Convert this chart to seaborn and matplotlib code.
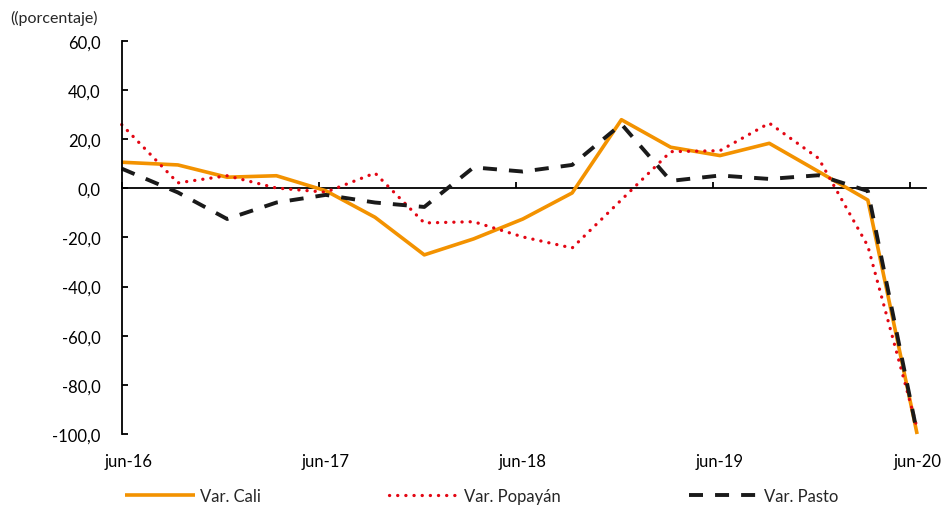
import numpy as np
import pandas as pd
import matplotlib
matplotlib.use("Agg")
import matplotlib.pyplot as plt
from matplotlib.ticker import FuncFormatter
import seaborn as sns

# Variacion anual trimestral, jun-16 a jun-20
trimestres = ["jun-16", "sep-16", "dic-16", "mar-17", "jun-17", "sep-17", "dic-17", "mar-18",
              "jun-18", "sep-18", "dic-18", "mar-19", "jun-19", "sep-19", "dic-19", "mar-20", "jun-20"]
cali = [10.6, 9.5, 4.5, 5.1, -1.0, -11.8, -27.1, -20.6, -12.5, -1.9, 27.9, 16.7, 13.3, 18.3, 6.8, -4.8, -100.0]
popayan = [25.9, 2.2, 5.1, 0.1, -1.6, 6.2, -14.1, -13.6, -19.8, -24.3, -4.7, 14.9, 15.3, 26.5, 12.2, -23.5, -97.5]
pasto = [8.0, -1.7, -12.5, -5.8, -2.7, -5.8, -7.6, 8.5, 6.8, 9.5, 26.1, 3.0, 5.2, 3.8, 5.3, -1.1, -99.5]
etiquetas_x = ["jun-16", "jun-17", "jun-18", "jun-19", "jun-20"]
series = ["Var. Cali", "Var. Popayán", "Var. Pasto"]

# los puntos quedan un poco despues de la marca de cada junio; el primero arranca en el eje
desfase = 0.14
pos = np.arange(len(trimestres)) + desfase
pos[0] = 0.0

df = pd.DataFrame({"x": np.tile(pos, 3),
                   "valor": cali + popayan + pasto,
                   "serie": np.repeat(series, len(trimestres))})

sns.set_theme(style="ticks")
plt.rcParams["font.family"] = ["Lato", "DejaVu Sans"]

colores = {"Var. Cali": "#F39200", "Var. Popayán": "#E30613", "Var. Pasto": "#1A1A1A"}
trazos = {"Var. Cali": "", "Var. Popayán": (0.05, 2.45), "Var. Pasto": (3.6, 3.1)}

fig = plt.figure(figsize=(9.47, 5.10), dpi=100)
ax = fig.add_axes([0.1285, 0.147, 0.8493, 0.771])

sns.lineplot(data=df, x="x", y="valor", hue="serie", style="serie", hue_order=series,
             style_order=series, palette=colores, dashes=trazos, linewidth=2.6,
             legend=False, ax=ax)

for ln in ax.lines:
    ln.set_clip_on(False)
    ln.set_solid_capstyle("butt")
ax.lines[1].set_linewidth(2.35)
ax.lines[1].set_dash_capstyle("round")
ax.lines[2].set_linewidth(2.8)

idx_x = [trimestres.index(t) for t in etiquetas_x]

ax.set_xlim(0, 16.32)
ax.set_ylim(-100, 60)
ax.set_yticks(np.arange(-100, 61, 20))
ax.yaxis.set_major_formatter(FuncFormatter(lambda v, p: f"{v:.1f}".replace(".", ",")))
# las etiquetas van centradas en el dato de junio, las marcas en el inicio del mes
ax.set_xticks([i + desfase for i in idx_x])
ax.set_xticklabels(etiquetas_x)
ax.set_xlabel("")
ax.set_ylabel("")

for s in ["top", "right", "bottom"]:
    ax.spines[s].set_visible(False)
ax.spines["left"].set_color("black")
ax.spines["left"].set_linewidth(1.3)
ax.tick_params(axis="y", direction="in", length=4, width=1.3, color="black",
               labelsize=12, pad=15, labelcolor="black")
ax.tick_params(axis="x", length=0, labelsize=12, pad=14, labelcolor="black")

# eje horizontal en cero con sus marcas hacia arriba
eje0 = ax.secondary_xaxis(0, transform=ax.transData)
eje0.set_xticks(idx_x)
eje0.tick_params(direction="in", length=4, width=1.3, color="black", labelbottom=False)
eje0.spines["bottom"].set_color("black")
eje0.spines["bottom"].set_linewidth(1.3)

fig.text(10 / 947, 1 - 18 / 510, "((porcentaje)", fontsize=11.5, va="center", ha="left")

ax.legend(handles=ax.lines[:3], labels=series, loc="center left",
          bbox_to_anchor=(125 / 947, 13 / 510), bbox_transform=fig.transFigure,
          ncol=3, frameon=False, fontsize=12, handlelength=4.2, handletextpad=0.3,
          columnspacing=7.7, borderpad=0, borderaxespad=0)

fig.savefig("out.png", dpi=100)
plt.close(fig)
